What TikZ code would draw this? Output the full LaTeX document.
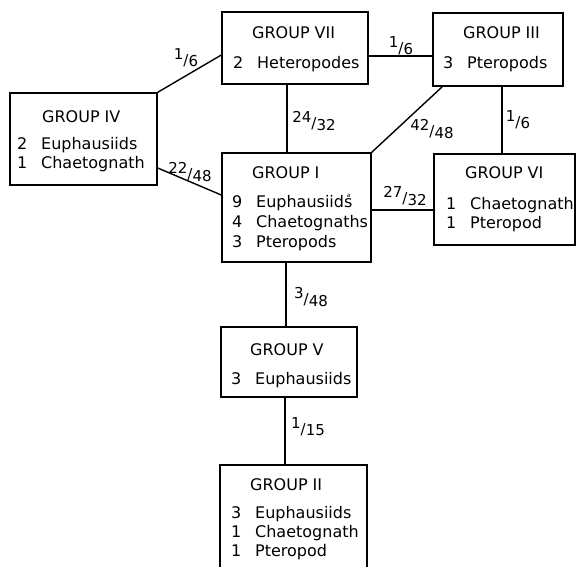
\documentclass[tikz,border=0pt]{standalone}
\usepackage{fontspec}
\setmainfont{DejaVu Sans}
\newcommand\fr[2]{\raisebox{0.36em}{#1}/\raisebox{-0.12em}{#2}}
\newcommand\nm[1]{\makebox[24pt][l]{#1}}
\begin{document}
\begin{tikzpicture}[x=1pt,y=-1pt,
  box/.style={draw,line width=1.4pt,inner sep=0pt},
  ttl/.style={anchor=base west,inner sep=0pt,font=\fontsize{16}{18}\selectfont},
  ln/.style={anchor=base west,inner sep=0pt,font=\fontsize{16}{18}\selectfont},
  lab/.style={inner sep=0pt,font=\fontsize{15}{17}\selectfont},
  con/.style={line width=1.4pt}]
\useasboundingbox (0,0) rectangle (576,566);
\clip (0,0) rectangle (576,566);
% boxes
\node[box,minimum width=146pt,minimum height=72pt] (g7) at (295,48) {};
\node[box,minimum width=130pt,minimum height=73pt] (g3) at (498,49.5) {};
\node[box,minimum width=147pt,minimum height=92pt] (g4) at (83.5,139) {};
\node[box,minimum width=149pt,minimum height=109pt] (g1) at (296.5,207.5) {};
\node[box,minimum width=141pt,minimum height=91pt] (g6) at (504.5,199.5) {};
\node[box,minimum width=136pt,minimum height=70pt] (g5) at (289,362) {};
\node[box,minimum width=147pt,minimum height=115pt] (g2) at (293.5,522.5) {};
% texts
\node[ttl] (t7) at (252,38) {GROUP VII};
\node[ln] (t7a) at (233,68) {\nm{2}Heteropodes};
\node[ttl] (t3) at (463,38) {GROUP III};
\node[ln] (t3a) at (443,68) {\nm{3}Pteropods};
\node[ttl] (t4) at (42,122) {GROUP IV};
\node[ln] (t4a) at (17,149) {\nm{2}Euphausiids};
\node[ln] (t4b) at (17,168) {\nm{1}Chaetognath};
\node[ttl] (t1) at (252,178) {GROUP I};
\node[ln] (t1a) at (232,207) {\nm{9}Euphausiids\kern-5.5pt\raisebox{9.6pt}{\fontsize{6}{6}\selectfont a}};
\node[ln] (t1b) at (232,227) {\nm{4}Chaetognaths};
\node[ln] (t1c) at (232,247) {\nm{3}Pteropods};
\node[ttl] (t6) at (465,178) {GROUP VI};
\node[ln] (t6a) at (446,209) {\nm{1}Chaetognath};
\node[ln] (t6b) at (446,228) {\nm{1}Pteropod};
\node[ttl] (t5) at (250,355) {GROUP V};
\node[ln] (t5a) at (231,384) {\nm{3}Euphausiids};
\node[ttl] (t2) at (250,490) {GROUP II};
\node[ln] (t2a) at (231,518) {\nm{3}Euphausiids};
\node[ln] (t2b) at (231,537) {\nm{1}Chaetognath};
\node[ln] (t2c) at (231,556) {\nm{1}Pteropod};
% connectors
\draw[con] (g4.north east) -- ([yshift=-7pt]g7.west);
\draw[con] ([yshift=-29pt]g4.east) -- ([yshift=12.5pt]g1.west);
\draw[con] ([xshift=-8pt]g7.south) -- ([xshift=-8pt]g7.south |- g1.north);
\draw[con] ([yshift=-8pt]g7.east) -- ([yshift=-8pt]g7.east -| g3.west);
\draw[con] ([xshift=10pt]g3.south west) -- (g1.north east);
\draw[con] ([xshift=4pt]g3.south) -- ([xshift=4pt]g3.south |- g6.north);
\draw[con] ([yshift=-2.5pt]g1.east) -- ([yshift=-2.5pt]g1.east -| g6.west);
\draw[con] ([xshift=-10.5pt]g1.south) -- ([xshift=-10.5pt]g1.south |- g5.north);
\draw[con] ([xshift=-4pt]g5.south) -- ([xshift=-4pt]g5.south |- g2.north);
% labels
\node[lab] (l1) at (186,58) {\fr{1}{6}};
\node[lab] (l2) at (190,172) {\fr{22}{48}};
\node[lab] (l3) at (314,121) {\fr{24}{32}};
\node[lab] (l4) at (401,46) {\fr{1}{6}};
\node[lab] (l5) at (432,129) {\fr{42}{48}};
\node[lab] (l6) at (518,120) {\fr{1}{6}};
\node[lab] (l7) at (405,196) {\fr{27}{32}};
\node[lab] (l8) at (311,297) {\fr{3}{48}};
\node[lab] (l9) at (308,427) {\fr{1}{15}};
\end{tikzpicture}
\end{document}
